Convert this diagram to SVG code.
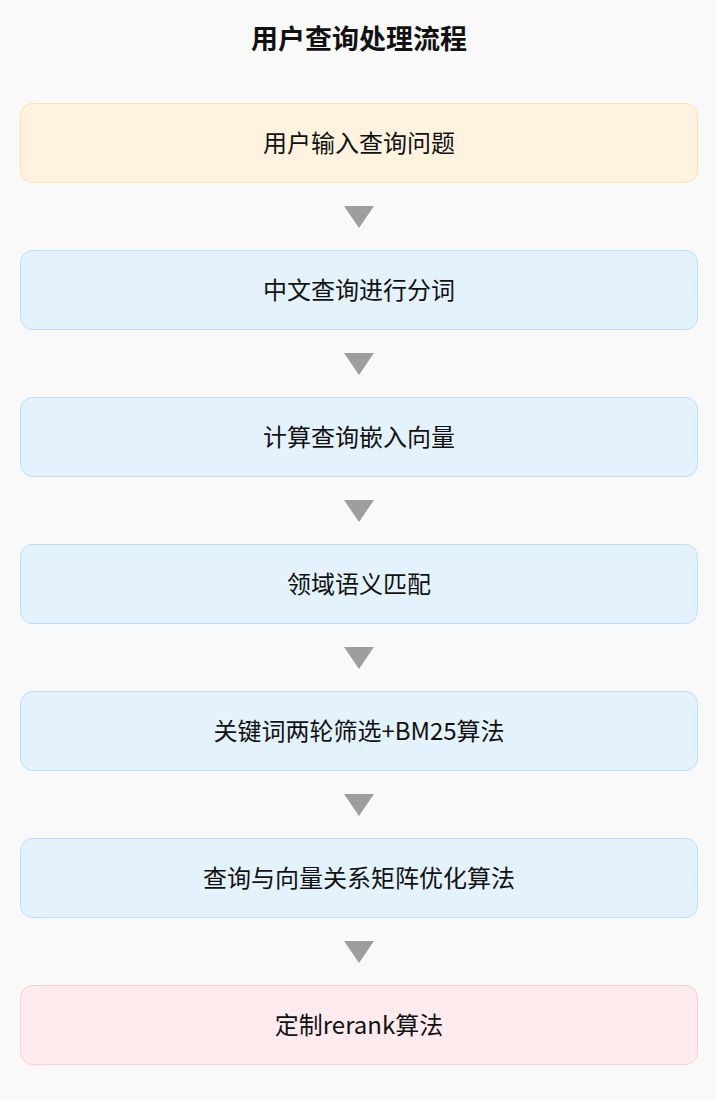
<svg xmlns="http://www.w3.org/2000/svg" width="716" height="1100" viewBox="0 0 716 1100">
<defs>
<style>
.bg{fill:#f9f9f9}
.title{font-family:"Noto Sans CJK SC","Noto Sans",sans-serif;font-size:27px;font-weight:bold;fill:#111;text-anchor:middle}
.lbl{font-family:"Noto Sans CJK SC","Noto Sans",sans-serif;font-size:24px;fill:#111;text-anchor:middle;dominant-baseline:central}
.box{stroke-width:1}
.start{fill:#fff3e0;stroke:#ffe0b2}
.step{fill:#e3f2fd;stroke:#bbdefb}
.end{fill:#ffebee;stroke:#ffcdd2}
.arr{fill:#9e9e9e}
</style>
</defs>
<rect class="bg" x="0" y="0" width="716" height="1100"/>
<text class="title" x="359" y="49">用户查询处理流程</text>
<g id="connectors">
<polygon class="arr" points="344,206 374,206 359,228"/>
<polygon class="arr" points="344,353 374,353 359,375"/>
<polygon class="arr" points="344,500 374,500 359,522"/>
<polygon class="arr" points="344,647 374,647 359,669"/>
<polygon class="arr" points="344,794 374,794 359,816"/>
<polygon class="arr" points="344,941 374,941 359,963"/>
</g>
<g id="n1"><rect class="box start" x="20.5" y="103.5" width="677" height="79" rx="12"/><text class="lbl" x="359" y="141">用户输入查询问题</text></g>
<g id="n2"><rect class="box step" x="20.5" y="250.5" width="677" height="79" rx="12"/><text class="lbl" x="359" y="288">中文查询进行分词</text></g>
<g id="n3"><rect class="box step" x="20.5" y="397.5" width="677" height="79" rx="12"/><text class="lbl" x="359" y="435">计算查询嵌入向量</text></g>
<g id="n4"><rect class="box step" x="20.5" y="544.5" width="677" height="79" rx="12"/><text class="lbl" x="359" y="582">领域语义匹配</text></g>
<g id="n5"><rect class="box step" x="20.5" y="691.5" width="677" height="79" rx="12"/><text class="lbl" x="359" y="729">关键词两轮筛选+BM25算法</text></g>
<g id="n6"><rect class="box step" x="20.5" y="838.5" width="677" height="79" rx="12"/><text class="lbl" x="359" y="876">查询与向量关系矩阵优化算法</text></g>
<g id="n7"><rect class="box end" x="20.5" y="985.5" width="677" height="79" rx="12"/><text class="lbl" x="359" y="1023">定制rerank算法</text></g>
</svg>
